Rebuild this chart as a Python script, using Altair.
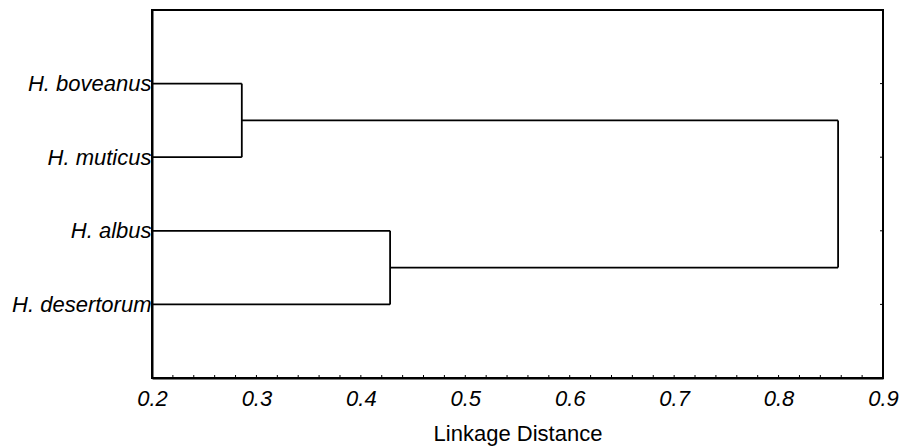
import altair as alt
import pandas as pd

# Leaves, top to bottom
species = ["H. boveanus", "H. muticus", "H. albus", "H. desertorum"]
leaf_pos = [1, 2, 3, 4]
# Merges: (child A, child B, linkage distance)
merge_a = ["H. boveanus", "H. albus", "M1"]
merge_b = ["H. muticus", "H. desertorum", "M2"]
merge_name = ["M1", "M2", "M3"]
merge_dist = [0.286, 0.428, 0.857]
x_ticks = [0.2, 0.3, 0.4, 0.5, 0.6, 0.7, 0.8, 0.9]
minor_ticks = [0.22, 0.24, 0.26, 0.28, 0.32, 0.34, 0.36, 0.38, 0.42, 0.44, 0.46, 0.48,
               0.52, 0.54, 0.56, 0.58, 0.62, 0.64, 0.66, 0.68, 0.72, 0.74, 0.76, 0.78,
               0.82, 0.84, 0.86, 0.88]
x_min, x_max = 0.2, 0.9
y_min, y_max = 0, 5

# Build dendrogram segments from the linkage lists
node_x = {s: x_min for s in species}
node_y = {s: p for s, p in zip(species, leaf_pos)}
segs = []
for a, b, n, d in zip(merge_a, merge_b, merge_name, merge_dist):
    segs.append({"x": node_x[a], "x2": d, "y": node_y[a], "y2": node_y[a]})
    segs.append({"x": node_x[b], "x2": d, "y": node_y[b], "y2": node_y[b]})
    segs.append({"x": d, "x2": d, "y": node_y[a], "y2": node_y[b]})
    node_x[n] = d
    node_y[n] = (node_y[a] + node_y[b]) / 2
seg_df = pd.DataFrame(segs)

label_arr = "[" + ",".join(["''"] + ["'" + s + "'" for s in species] + ["''"]) + "]"

xscale = alt.Scale(domain=[x_min, x_max], nice=False, zero=False)
yscale = alt.Scale(domain=[y_min, y_max], reverse=True, nice=False, zero=False)

FONT = "Liberation Sans"
H = 368

lines = alt.Chart(seg_df).mark_rule(color="black", strokeWidth=1.8).encode(
    x=alt.X("x:Q", scale=xscale,
            axis=alt.Axis(values=x_ticks, format=".1f", title="Linkage Distance",
                          ticks=False, labelPadding=10, labelFontSize=22,
                          labelFont=FONT, labelFontStyle="italic", labelColor="black",
                          titleFont=FONT, titleFontSize=22, titleFontWeight="normal",
                          titleColor="black", titlePadding=14,
                          domainColor="black", domainWidth=2, grid=False,
                          labelFlush=False)),
    x2="x2:Q",
    y=alt.Y("y:Q", scale=yscale,
            axis=alt.Axis(values=leaf_pos, labelExpr=label_arr + "[datum.value]",
                          title=None, ticks=False, labelPadding=1, labelFontSize=22,
                          labelFont=FONT, labelFontStyle="italic", labelColor="black",
                          domainColor="black", domainWidth=2, grid=False)),
    y2="y2:Q",
)

# Inward minor ticks along the bottom edge
mt_df = pd.DataFrame({"x": minor_ticks + x_ticks})
minor = alt.Chart(mt_df).mark_rule(color="black", strokeWidth=1).encode(
    x=alt.X("x:Q", scale=xscale),
    y=alt.value(H),
    y2=alt.value(H - 3),
)
# Inward ticks on the right edge at the leaf positions
rt_df = pd.DataFrame({"y": leaf_pos})
right = alt.Chart(rt_df).mark_rule(color="black", strokeWidth=1).encode(
    y=alt.Y("y:Q", scale=yscale),
    x=alt.value(731),
    x2=alt.value(728),
)

chart = alt.layer(lines, minor, right).properties(
    width=731, height=H,
    background="white",
    autosize=alt.AutoSizeParams(type="none"),
    padding={"left": 144, "top": 2, "right": 20, "bottom": 70},
).configure_view(stroke="black", strokeWidth=2)

chart.save("out.html", embed_options={"renderer": "svg", "actions": False})
